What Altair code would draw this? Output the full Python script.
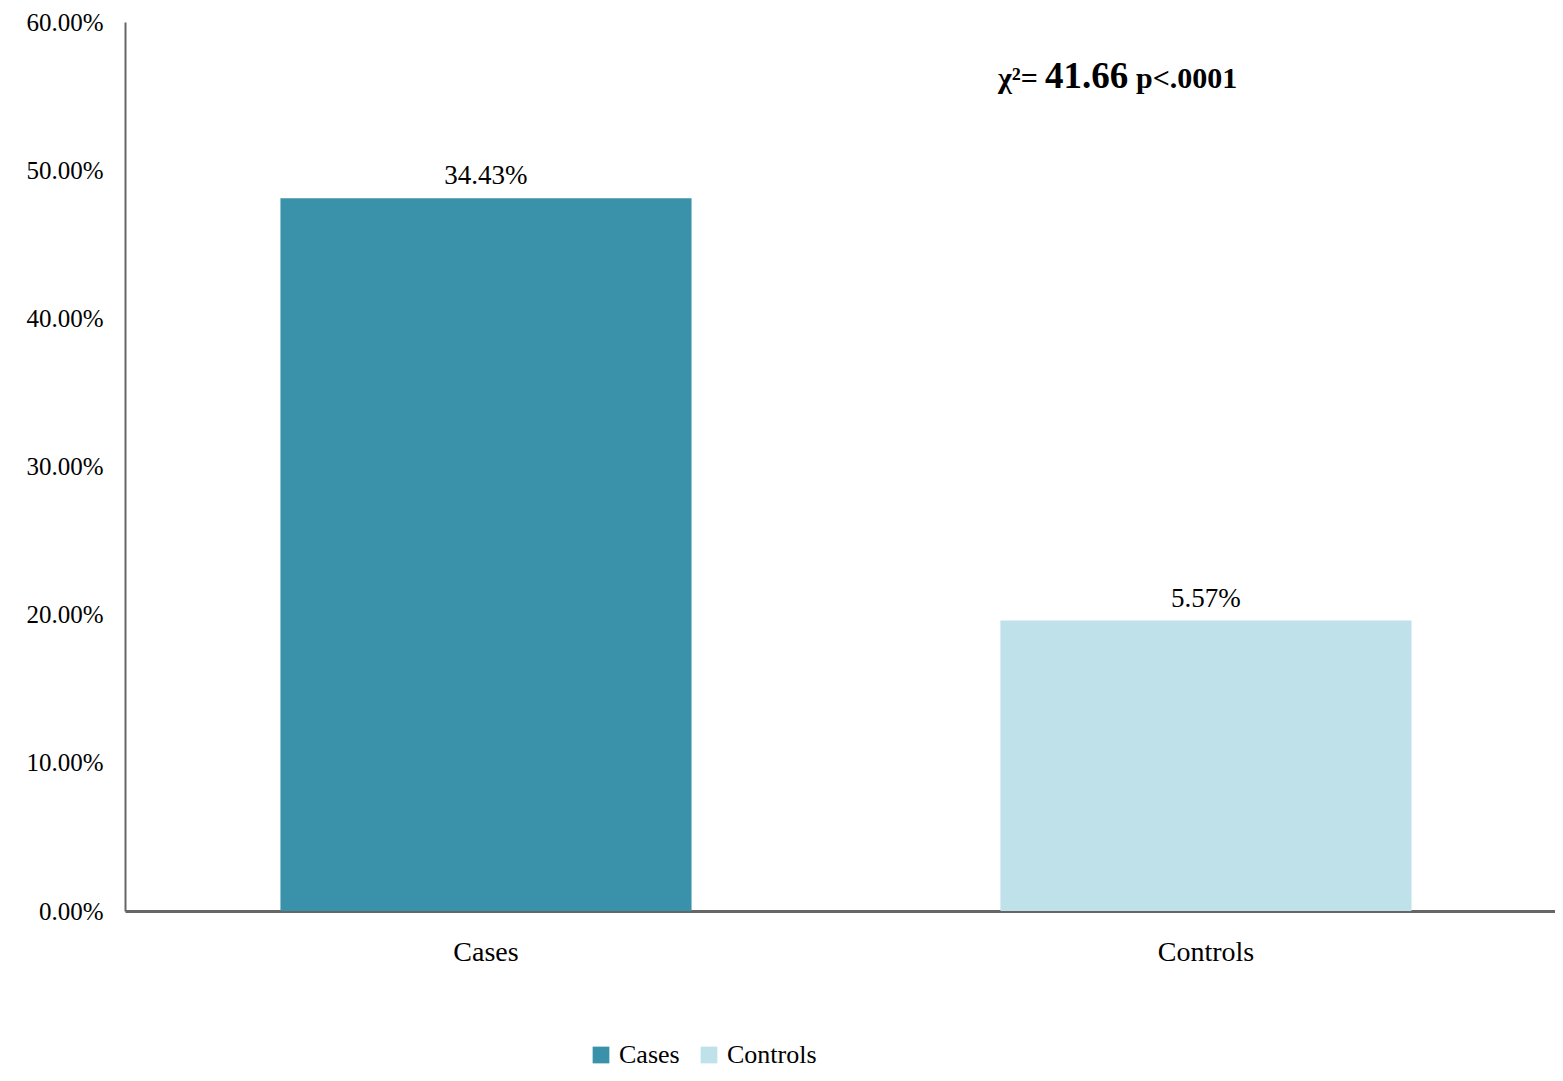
import altair as alt
import pandas as pd

categories = ["Cases", "Controls"]
values = [0.481, 0.196]
bar_labels = ["34.43%", "5.57%"]
colors = ["#3A92AA", "#BFE1EA"]
y_ticks = [0.0, 0.1, 0.2, 0.3, 0.4, 0.5, 0.6]

df = pd.DataFrame({"group": categories, "value": values, "label": bar_labels})

FONT = "Liberation Serif"

x_enc = alt.X("group:N", sort=categories, title=None,
              scale=alt.Scale(paddingInner=0.429, paddingOuter=0.2076, align=0.52),
              axis=alt.Axis(labelAngle=0, labelFontSize=28, labelPadding=27,
                            labelColor="#000", labelFont=FONT, ticks=False,
                            domainColor="#666666", domainWidth=3))
y_enc = alt.Y("value:Q", title=None,
              scale=alt.Scale(domain=[0, 0.6], nice=False),
              axis=alt.Axis(values=y_ticks, format=".2%", labelFontSize=25,
                            labelPadding=22, labelColor="#000", labelFont=FONT,
                            ticks=False, grid=False,
                            domainColor="#666666", domainWidth=2))

bars = alt.Chart(df).mark_bar().encode(
    x=x_enc,
    y=y_enc,
    color=alt.Color("group:N", sort=categories,
                    scale=alt.Scale(domain=categories, range=colors),
                    legend=alt.Legend(title=None, orient="none", direction="horizontal",
                                      legendX=463, legendY=1020,
                                      symbolType="square", symbolSize=280,
                                      symbolStrokeWidth=0, labelFontSize=26,
                                      labelFont=FONT, labelColor="#000",
                                      columnPadding=16, labelOffset=5)),
)

texts = alt.Chart(df).mark_text(dy=-22, fontSize=27, font=FONT, color="#000").encode(
    x=alt.X("group:N", sort=categories),
    y="value:Q",
    text="label:N",
)

ann1 = alt.Chart(pd.DataFrame({"t": ["χ²="]})).mark_text(
    fontSize=30, fontWeight="bold", font=FONT, align="left", baseline="alphabetic", color="#000"
).encode(x=alt.value(873), y=alt.value(66), text="t:N")
ann2 = alt.Chart(pd.DataFrame({"t": ["41.66"]})).mark_text(
    fontSize=37, fontWeight="bold", font=FONT, align="left", baseline="alphabetic", color="#000"
).encode(x=alt.value(920), y=alt.value(66), text="t:N")
ann3 = alt.Chart(pd.DataFrame({"t": ["p<.0001"]})).mark_text(
    fontSize=30, fontWeight="bold", font=FONT, align="left", baseline="alphabetic", color="#000"
).encode(x=alt.value(1011), y=alt.value(66), text="t:N")

chart = alt.layer(bars, texts, ann1, ann2, ann3).properties(
    width=1430, height=889,
    autosize=alt.AutoSizeParams(type="none"),
    padding={"left": 117, "top": 14, "right": 0, "bottom": 162},
).configure(background="white").configure_view(stroke=None, strokeWidth=0)

chart.save("out.html", embed_options={"renderer": "svg", "actions": False})
